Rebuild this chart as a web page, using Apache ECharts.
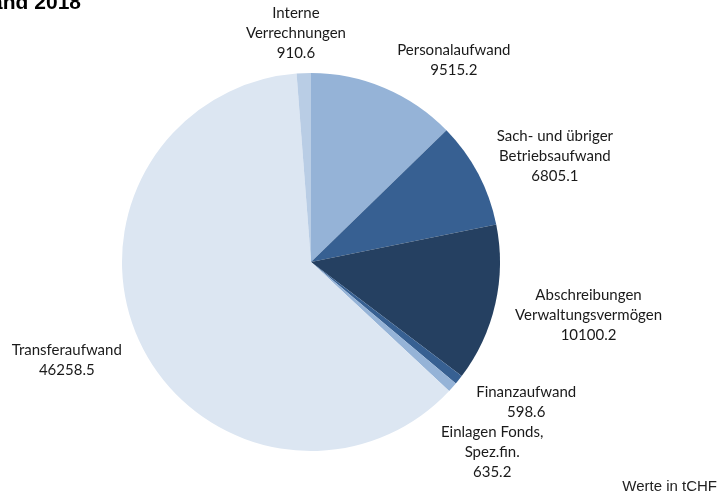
<!DOCTYPE html>
<html>
<head>
<meta charset="utf-8">
<script src="https://cdn.jsdelivr.net/npm/echarts@6/dist/echarts.min.js"></script>
<style>
  html, body { margin: 0; padding: 0; background: #fff; }
  #chart { width: 720px; height: 498px; }
</style>
</head>
<body>
<div id="chart"></div>
<script>
// Aufwand 2018, Werte in tCHF
const categories = [
  'Personalaufwand',
  'Sach- und übriger\nBetriebsaufwand',
  'Abschreibungen\nVerwaltungsvermögen',
  'Finanzaufwand',
  'Einlagen Fonds,\nSpez.fin.',
  'Transferaufwand',
  'Interne\nVerrechnungen'
]
const values = [9515.2, 6805.1, 10100.2, 598.6, 635.2, 46258.5, 910.6]
const colors = ['#95b3d7', '#376092', '#254061', '#376092', '#95b3d7', '#dce6f2', '#b9cde5']

const CX = 311
const CY = 262
const R = 189
const GAP = 12

// Mittelwinkel je Segment (im Uhrzeigersinn ab 12 Uhr)
const total = values.reduce((a, b) => a + b, 0)
const mids = []
let acc = 0
values.forEach(v => {
  mids.push((acc + v / 2) / total * 2 * Math.PI)
  acc += v
})

// Beschriftung ausserhalb, zentriert wie in Excel
const boxes = []
function placeLabel(p) {
  const i = p.dataIndex
  const s = Math.sin(mids[i])
  const co = Math.cos(mids[i])
  const w = p.labelRect.width
  const h = p.labelRect.height
  const side = Math.max(-1, Math.min(1, s / 0.3))
  let x = CX + (R + GAP) * s + (w / 2 + 8) * side
  let y = CY - (R + GAP) * co - h / 2 * co + 2
  const prev = boxes[i - 1]
  if (prev && co < 0 && Math.abs(x - prev.x) < (w + prev.w) / 2 && Math.abs(y - prev.y) < (h + prev.h) / 2) {
    // nach unten schieben, Ecke bleibt am Kreis
    const top = prev.y + prev.h / 2
    y = top + h / 2
    const dy = top - CY
    const sign = s < 0 ? -1 : 1
    x = CX + sign * Math.sqrt(Math.max(0, (R + GAP) * (R + GAP) - dy * dy)) + sign * (w / 2 + 8)
  }
  boxes[i] = { x, y, w, h }
  return { x, y, align: 'center', verticalAlign: 'middle' }
}

const chart = echarts.init(document.getElementById('chart'))
chart.setOption({
  animation: false,
  color: colors,
  graphic: [
    {
      type: 'text',
      x: 81,
      y: 3,
      style: {
        text: 'Aufwand 2018',
        align: 'right',
        verticalAlign: 'middle',
        font: 'bold 21px "Liberation Sans", Arial, sans-serif',
        fill: '#000'
      }
    },
    {
      type: 'text',
      right: 3,
      top: 479,
      style: {
        text: 'Werte in tCHF',
        font: '15px "Liberation Sans", Arial, sans-serif',
        fill: '#222'
      }
    }
  ],
  series: [{
    type: 'pie',
    center: [CX, CY],
    radius: R,
    startAngle: 90,
    clockwise: true,
    avoidLabelOverlap: false,
    itemStyle: { borderWidth: 0 },
    label: {
      show: true,
      position: 'outside',
      fontFamily: 'Lato, "Noto Sans", sans-serif',
      fontSize: 15,
      lineHeight: 20,
      color: '#1a1a1a',
      formatter: p => p.name + '\n' + p.value.toFixed(1)
    },
    labelLine: { show: false },
    labelLayout: placeLabel,
    emphasis: { disabled: true },
    data: categories.map((c, i) => ({ name: c, value: values[i] }))
  }]
})
</script>
</body>
</html>
